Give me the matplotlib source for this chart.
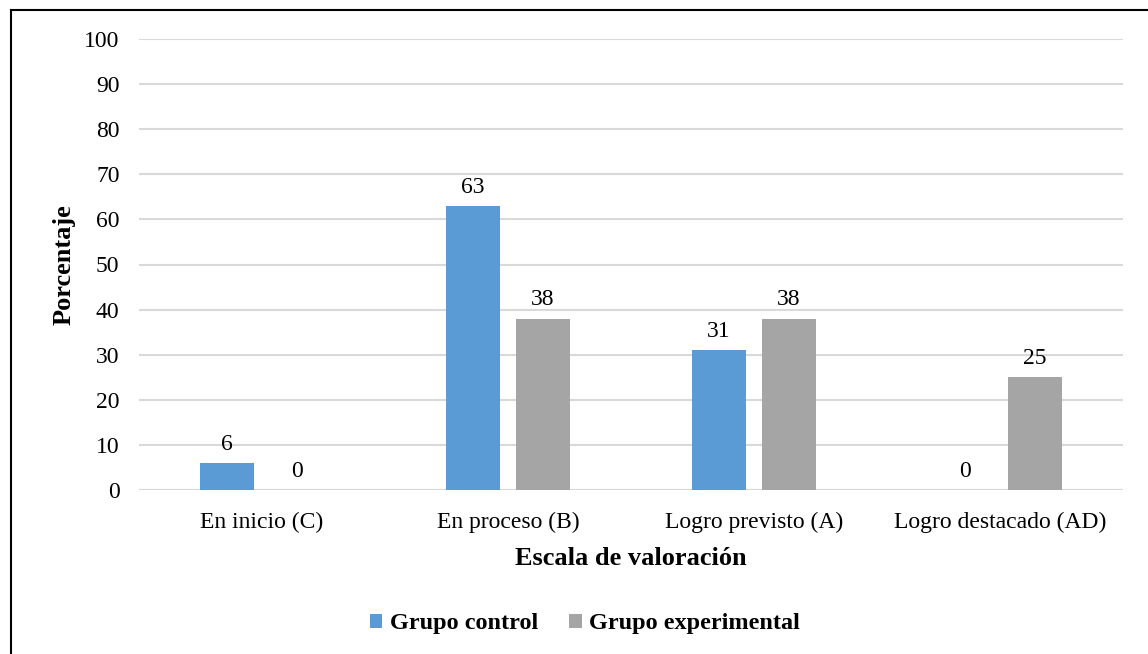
import numpy as np
import matplotlib.pyplot as plt
from matplotlib.lines import Line2D

plt.rcParams['font.family'] = ['Liberation Serif', 'DejaVu Serif']

# Datos
categorias = ['En inicio (C)', 'En proceso (B)', 'Logro previsto (A)', 'Logro destacado (AD)']
control = [6, 63, 31, 0]
experimental = [0, 38, 38, 25]

azul = '#5b9bd5'
gris = '#a5a5a5'

fig = plt.figure(figsize=(11.48, 6.54), dpi=100)
ax = fig.add_axes([139/1148, 1-490/654, 984/1148, 451/654])

x = np.arange(len(categorias))
w = 0.22
off = 0.142
b1 = ax.bar(x-off, control, w, color=azul, label='Grupo control', zorder=3)
b2 = ax.bar(x+off, experimental, w, color=gris, label='Grupo experimental', zorder=3)

for barras in (b1, b2):
    for b in barras:
        ax.annotate(str(int(b.get_height())), (b.get_x()+b.get_width()/2, b.get_height()),
                    xytext=(0, 6), textcoords='offset points', ha='center', va='bottom', fontsize=17)

ax.set_xlim(-0.5, 3.5)
ax.set_ylim(0, 100)
ax.set_yticks(np.arange(0, 101, 10))
ax.set_xticks(x)
ax.set_xticklabels(categorias, fontsize=17)
ax.tick_params(axis='y', labelsize=17, length=0, pad=14)
ax.tick_params(axis='x', length=0, pad=16)
ax.grid(axis='y', color='#d9d9d9', linewidth=1.5, zorder=0)
for s in ax.spines.values():
    s.set_visible(False)
ax.axhline(0, color='#d9d9d9', linewidth=1.5, zorder=1)

ax.set_ylabel('Porcentaje', fontsize=19, fontweight='bold', labelpad=6)
ax.set_xlabel('Escala de valoración', fontsize=19, fontweight='bold', labelpad=10)

leg = fig.legend(handles=[b1, b2], loc='center', bbox_to_anchor=(585/1148, 1-624/654), ncol=2,
                 frameon=False, prop={'size': 17.5, 'weight': 'bold'}, handlelength=0.5,
                 handleheight=0.5, handletextpad=0.3, columnspacing=1.3)

# Borde
fig.add_artist(Line2D([10.5/1148, 10.5/1148], [0, 1-9.5/654], color='black', linewidth=1.5, transform=fig.transFigure))
fig.add_artist(Line2D([10.5/1148, 1], [1-9.5/654, 1-9.5/654], color='black', linewidth=1.5, transform=fig.transFigure))

fig.savefig('out.png', dpi=100)
